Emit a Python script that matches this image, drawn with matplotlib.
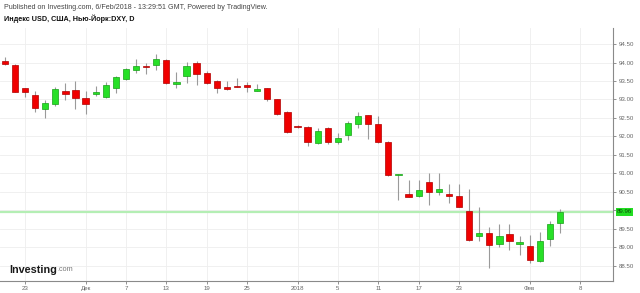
import matplotlib.pyplot as plt
import numpy as np

plt.rcParams['font.family'] = ['Liberation Sans', 'DejaVu Sans']

# daily DXY candles, 21 Nov 2017 - 6 Feb 2018
dates = ['2017-11-21', '2017-11-22', '2017-11-23', '2017-11-24', '2017-11-27', '2017-11-28',
         '2017-11-29', '2017-11-30', '2017-12-01', '2017-12-04', '2017-12-05', '2017-12-06',
         '2017-12-07', '2017-12-08', '2017-12-11', '2017-12-12', '2017-12-13', '2017-12-14',
         '2017-12-15', '2017-12-18', '2017-12-19', '2017-12-20', '2017-12-21', '2017-12-22',
         '2017-12-25', '2017-12-26', '2017-12-27', '2017-12-28', '2017-12-29', '2018-01-01',
         '2018-01-02', '2018-01-03', '2018-01-04', '2018-01-05', '2018-01-08', '2018-01-09',
         '2018-01-10', '2018-01-11', '2018-01-12', '2018-01-15', '2018-01-16', '2018-01-17',
         '2018-01-18', '2018-01-19', '2018-01-22', '2018-01-23', '2018-01-24', '2018-01-25',
         '2018-01-26', '2018-01-29', '2018-01-30', '2018-01-31', '2018-02-01', '2018-02-02',
         '2018-02-05', '2018-02-06']

opens = [94.05, 93.93, 93.30, 93.12, 92.74, 92.87, 93.23, 93.26, 93.03, 93.16,
         93.07, 93.30, 93.55, 93.80, 93.91, 93.93, 94.06, 93.41, 93.64, 93.98,
         93.71, 93.50, 93.33, 93.36, 93.36, 93.24, 93.30, 93.00, 92.67, 92.28,
         92.25, 91.81, 92.22, 91.86, 92.05, 92.33, 92.57, 92.33, 91.86, 90.95,
         90.44, 90.39, 90.78, 90.51, 90.44, 90.38, 89.99, 89.31, 89.38, 89.10,
         89.36, 89.10, 89.04, 88.62, 89.23, 89.67]
closes = [93.95, 93.21, 93.21, 92.78, 92.90, 93.28, 93.16, 93.05, 92.88, 93.19,
          93.38, 93.62, 93.82, 93.91, 93.87, 94.09, 93.44, 93.48, 93.91, 93.68,
          93.45, 93.32, 93.28, 93.34, 93.35, 93.26, 93.01, 92.60, 92.11, 92.25,
          91.86, 92.16, 91.84, 91.95, 92.36, 92.54, 92.33, 91.84, 90.97, 90.97,
          90.37, 90.54, 90.51, 90.57, 90.40, 90.10, 89.20, 89.38, 89.07, 89.31,
          89.16, 89.13, 88.66, 89.18, 89.64, 89.96]
highs = [94.16, 93.96, 93.32, 93.24, 92.99, 93.35, 93.45, 93.51, 93.24, 93.36,
         93.48, 93.64, 93.84, 94.09, 93.98, 94.23, 94.09, 93.75, 94.01, 94.04,
         93.77, 93.52, 93.50, 93.57, 93.48, 93.42, 93.32, 93.02, 92.68, 92.31,
         92.28, 92.24, 92.26, 92.09, 92.41, 92.65, 92.59, 92.55, 91.88, 90.98,
         90.82, 90.82, 91.01, 91.01, 90.71, 90.71, 90.58, 90.10, 89.56, 89.63,
         89.63, 89.31, 89.34, 89.41, 89.72, 90.03]
lows = [93.94, 93.20, 93.06, 92.67, 92.51, 92.81, 92.99, 92.74, 92.61, 93.09,
        93.05, 93.18, 93.53, 93.71, 93.68, 93.80, 93.42, 93.30, 93.44, 93.39,
        93.41, 93.18, 93.26, 93.33, 93.21, 93.22, 92.97, 92.58, 92.10, 92.23,
        91.74, 91.80, 91.80, 91.79, 91.91, 92.23, 91.93, 91.82, 90.92, 90.29,
        90.36, 90.35, 90.15, 90.42, 90.19, 90.10, 89.18, 89.16, 88.44, 89.02,
        88.93, 88.78, 88.57, 88.61, 89.04, 89.38]

tick_dates = ['2017-11-23', '2017-12-01', '2017-12-07', '2017-12-13', '2017-12-19',
              '2017-12-25', '2018-01-01', '2018-01-05', '2018-01-11', '2018-01-17',
              '2018-01-23', '2018-02-01', '2018-02-08']
tick_labels = ['23', 'Дек', '7', '13', '19', '25', '2018', '5', '11', '17', '23', 'Фев', '8']
price_ticks = [88.5, 89.0, 89.5, 90.0, 90.5, 91.0, 91.5, 92.0, 92.5, 93.0, 93.5, 94.0, 94.5]
last_price = 89.96

# x = trading-day index (weekends skipped)
x = np.busday_count(dates[0], dates)
xt = np.busday_count(dates[0], tick_dates)
o = np.array(opens)
c = np.array(closes)
up = c >= o

fig = plt.figure(figsize=(6.4, 2.93), dpi=100)
ax = fig.add_axes([0.0, 0.041, 0.958, 0.863])

ax.vlines(x, lows, highs, color='#9a9a9a', lw=0.8, zorder=2)
body_lo = np.minimum(o, c)
body_h = np.maximum(np.abs(c - o), 0.035)
colors = np.where(up, '#27e027', '#f00000')
edges = np.where(up, '#16a016', '#b00000')
ax.bar(x, body_h, bottom=body_lo, width=0.62, color=colors, edgecolor=edges,
       linewidth=0.5, zorder=3)

ax.axhline(last_price, color='#b4eeb4', lw=1.6, zorder=1)

ax.set_xlim(-0.48, 60.27)
ax.set_ylim(88.09, 94.93)

ax.set_xticks(xt)
ax.set_xticklabels(tick_labels)
ax.set_yticks(price_ticks)
ax.set_yticklabels(['' if abs(p - 90.0) < 1e-6 else '%.2f' % p for p in price_ticks])
ax.yaxis.tick_right()
ax.tick_params(axis='both', labelsize=4.4, colors='#666666', length=2, width=0.5, pad=1.5)
ax.tick_params(axis='y', pad=2)
ax.grid(True, color='#eeeeee', lw=0.6, zorder=0)
ax.set_axisbelow(True)

for s in ['top', 'left']:
    ax.spines[s].set_visible(False)
for s in ['right', 'bottom']:
    ax.spines[s].set_color('#8a8a8a')
    ax.spines[s].set_linewidth(0.8)

# last price tag
ax.text(1.006, last_price, '%.2f' % last_price, transform=ax.get_yaxis_transform(),
        fontsize=4.4, color='#0a4a0a', va='center', ha='left',
        bbox=dict(boxstyle='square,pad=0.2', fc='#22dd22', ec='none'))

fig.text(0.006, 0.976, 'Published on Investing.com, 6/Feb/2018 - 13:29:51 GMT, Powered by TradingView.',
         fontsize=5.1, color='#444444', va='center', ha='left')
fig.text(0.006, 0.935, 'Индекс USD, США, Нью-Йорк:DXY, D',
         fontsize=5.2, color='#111111', fontweight='bold', va='center', ha='left')

# logo
logo = fig.text(0.014, 0.079, 'Investing', fontsize=7.8, fontweight='bold', color='#1a1a1a',
                va='center', ha='left')
ax.annotate('.com', xy=(1, 0.18), xycoords=logo, xytext=(0.3, 0), textcoords='offset points',
            fontsize=5.2, color='#777777', va='bottom', ha='left', annotation_clip=False)

fig.savefig('out.png', dpi=100)
